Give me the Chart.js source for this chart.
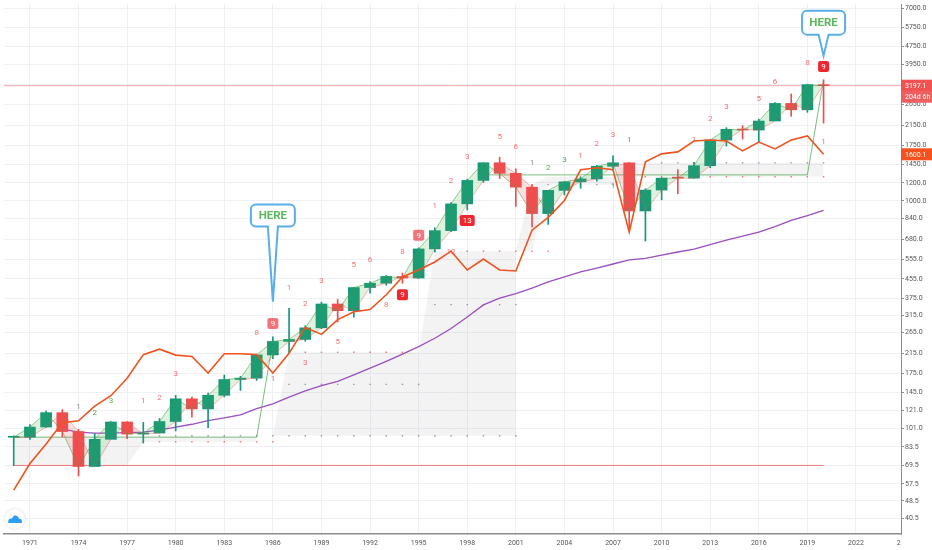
<!DOCTYPE html>
<html>
<head>
<meta charset="utf-8">
<script src="https://cdn.jsdelivr.net/npm/chart.js@4.4.1/dist/chart.umd.min.js"></script>
<style>
  html, body { margin: 0; padding: 0; background: #fff; }
</style>
</head>
<body>
<canvas id="chart" width="932" height="550"></canvas>
<script>
// yearly candles
const years = [1970,1971,1972,1973,1974,1975,1976,1977,1978,1979,1980,1981,1982,1983,1984,1985,1986,1987,1988,1989,
  1990,1991,1992,1993,1994,1995,1996,1997,1998,1999,2000,2001,2002,2003,2004,2005,2006,2007,2008,2009,
  2010,2011,2012,2013,2014,2015,2016,2017,2018,2019,2020];
const open = [92.06,92.15,102.09,118.05,97.55,68.56,90.19,107.46,95.10,96.11,107.94,135.76,122.55,140.64,164.93,167.24,211.28,242.17,247.08,277.72,
  353.40,330.22,417.09,435.71,466.45,459.27,615.93,740.74,970.43,1229.23,1469.25,1320.28,1148.08,879.82,1111.92,1211.92,1248.29,1418.30,1468.36,903.25,
  1115.10,1257.64,1257.60,1426.19,1848.36,2058.90,2043.94,2238.83,2673.61,2506.85,3230.78];
const high = [93.46,104.77,119.79,121.74,99.80,95.61,107.83,107.97,106.99,111.27,140.52,138.12,143.68,172.65,170.41,212.02,254.00,337.89,283.66,359.80,
  369.78,418.32,442.65,471.29,482.85,622.88,762.12,983.79,1244.93,1473.10,1552.87,1383.37,1176.97,1112.56,1217.33,1275.80,1431.81,1576.09,1471.77,1130.38,
  1262.60,1370.58,1474.51,1849.44,2093.55,2134.72,2277.53,2694.97,2940.91,3247.93,3393.52];
const low = [69.20,90.16,101.67,92.16,62.28,70.04,90.90,90.71,86.90,96.13,98.22,112.77,101.44,138.34,147.82,163.36,203.49,216.46,242.63,275.31,
  294.51,309.35,394.50,426.88,435.86,457.20,597.29,733.54,912.83,1205.46,1254.07,944.75,768.63,788.90,1060.72,1136.15,1219.29,1363.98,741.02,666.79,
  1010.91,1074.77,1258.86,1398.11,1737.92,1867.01,1810.10,2245.13,2346.58,2443.96,2191.86];
const close = [92.15,102.09,118.05,97.55,68.56,90.19,107.46,95.10,96.11,107.94,135.76,122.55,140.64,164.93,167.24,211.28,242.17,247.08,277.72,353.40,
  330.22,417.09,435.71,466.45,459.27,615.93,740.74,970.43,1229.23,1469.25,1320.28,1148.08,879.82,1111.92,1211.92,1248.29,1418.30,1468.36,903.25,1115.10,
  1257.64,1257.60,1426.19,1848.36,2058.90,2043.94,2238.83,2673.61,2506.85,3230.78,3197.1];

// orange-red trend line (1970-2020)
const redLine = [54,70.7,86,106.6,108.8,126,140,167,212,224,211,208,176,214,214,212,176,215,279,260,
  302,327,334,388,464,498,540,602,498,556,498,493,744,847,1004,1369,1397,1369,729,1483,
  1607,1640,1830,1848,1830,1656,1811,1689,1848,1925,1600.1];

// purple long average (1973-2020)
const purpleYears = years.slice(3);
const purpleLine = [100,97,96,96,96.5,97,99,102,105,109,112,115.5,123,129,138,147,155,162,173,185,
  198,213,230,250,276,310,350,375,392,415,442,465,488,508,529,551,560,579,597,615,
  643,673,700,729,772,822,862,908];

// grey zones
const zone1Years = [1970,1971,1972,1973,1974,1975,1976,1977,1978,1979,1980,1981,1982,1983,1984,1985];
const zone1Top = [92.5,92.5,92.5,92.5,92.5,92.5,92.5,92.5,92.5,92.5,92.5,92.5,92.5,92.5,92.5,92.5];
const zone1Bot = [69.3,69.3,69.3,69.3,69.3,69.3,69.3,69.3,88,88,88,88,88,88,88,88];
const zone2Years = [1986,1987,1988,1989,1990,1991,1992,1993,1994,1995,1996,1997,1998,1999,2000,2001];
const zone2Top = [93.5,217,217,217,217,217,217,217,217,217,602,602,602,602,602,602];
const zone2Bot = [93.5,93.5,93.5,93.5,93.5,93.5,93.5,93.5,93.5,93.5,93.5,93.5,93.5,93.5,93.5,93.5];
const zone3Years = [2001,2002,2003,2004,2005,2006,2007,2008,2009,2010,2011,2012,2013,2014,2015,2016,2017,2018,2019,2020];
const zone3Top = [602,1178,1276,1276,1276,1276,1276,1468,1468,1468,1468,1468,1468,1468,1468,1468,1468,1468,1468,1468];
const zone3Bot = [602,602,1178,1178,1178,1178,1178,1276,1276,1276,1276,1276,1276,1276,1276,1276,1276,1276,1276,1276];

// green support steps
const supportAYears = [1970,1971,1972,1973,1974,1975,1976,1977,1978,1979,1980,1981,1982,1983,1984,1985,1986];
const supportA = [92.2,92.2,92.2,92.2,92.2,92.2,92.2,92.2,92.2,92.2,92.2,92.2,92.2,92.2,92.2,92.2,242];
const supportBYears = [1999,2000,2001,2002,2003,2004,2005,2006,2007,2008,2009,2010,2011,2012,2013,2014,2015,2016,2017,2018,2019,2020];
const supportB = [1300,1300,1300,1300,1300,1300,1300,1300,1300,1300,1300,1300,1300,1300,1300,1300,1300,1300,1300,1300,1300,3393];

const baseLevel = 69.3;          // red horizontal from the 1970 low
const lastPrice = 3197.1;
const countdown = '204d 6h';

// dotted levels: [years, level, tone]
const dotLevels = [
  [[1978,1979,1980,1981,1982,1983,1984,1985,1986,1987,1988,1989,1990,1991,1992,1993,1994,1995,1996,1997,1998,1999,2000,2001], 93.5, 'g'],
  [[1978,1979,1980,1981,1982,1983,1984,1985,1986], 88, 'r'],
  [[1986,1987,1988,1989,1990,1991,1992,1993,1994], 217, 'r'],
  [[1987,1988,1989,1990,1991,1992,1993,1994,1995], 157, 'g'],
  [[1996,1997,1998,1999,2000,2001], 351, 'g'],
  [[1996,1997,1998,1999,2000,2001,2002,2003], 602, 'r'],
  [[2002,2003,2004,2005,2006,2007], 1178, 'g'],
  [[2009,2010,2011,2012,2013,2014,2015,2016,2017,2018,2019,2020], 1468, 'g'],
  [[2008,2009,2010,2011,2012,2013,2014,2015,2016,2017,2018,2019,2020], 1276, 'r']
];

// sequential counts
const tdYears = [1974,1975,1976,1978,1979,1980,1985,1986,1987,1988,1989,1991,1992,1986,1988,1990,1993,1994,1994,1995,
  1996,1997,1998,2000,2001,1998,1997,2002,2003,2004,2005,2006,2007,2008,2007,2012,2013,2014,2016,2017,2019,2020,2020];
const tdPrices = [125,118,134,134,138,176,265,290,416,354,446,524,551,167,196,242,351,388,602,707,
  955,1226,1560,1924,1724,821,602,1468,1398,1514,1576,1777,1963,1849,1166,1849,2304,2598,2815,3338,4036,3877,1812];
const tdTexts = ['1','2','3','1','2','3','8','9','1','2','3','5','6','1','3','5','8','9','8','9',
  '1','2','3','5','6','13','12','1','2','3','1','2','3','1','1','1','2','3','5','6','8','9','1'];
const tdKinds = ['k','g','g','r','r','r','r','pb','r','r','r','r','r','r','r','r','r','rb','r','pb',
  'r','r','r','r','r','rb','r','k','g','g','r','r','r','k','k','r','r','r','r','r','r','rb','r'];

const hereYears = [1986, 2020];
const herePrices = [362, 4330];

const yTicks = [7000,5750,4750,3950,3250,2650,2150,1750,1450,1200,1000,840,680,555,455,375,315,265,215,175,145,121,101,83.5,69.5,57.5,48.5,40.5];
const xTicks = [1971,1974,1977,1980,1983,1986,1989,1992,1995,1998,2001,2004,2007,2010,2013,2016,2019,2022];
const xMin = 1969.4, xMax = 2024.78;

const UP = '#13987c', DOWN = '#f04d4f';
const pts = (xs, ys) => xs.map((x, i) => ({x, y: ys[i]}));
const candleColor = years.map((y, i) => close[i] >= open[i] ? UP : DOWN);

function line(data, color, width, order, extra) {
  return Object.assign({type: 'line', data, borderColor: color, borderWidth: width,
    pointRadius: 0, fill: false, tension: 0, order}, extra || {});
}
const greyFill = 'rgba(120,123,134,0.09)';
function zone(xs, top, bot) {
  return [
    line(pts(xs, top), 'rgba(0,0,0,0)', 0, 20, {fill: '+1', backgroundColor: greyFill}),
    line(pts(xs, bot), 'rgba(0,0,0,0)', 0, 20)
  ];
}

const datasets = [
  ...zone(zone1Years, zone1Top, zone1Bot),
  ...zone(zone2Years, zone2Top, zone2Bot),
  ...zone(zone3Years, zone3Top, zone3Bot),
  line(pts(years, close), 'rgba(67,160,71,0.55)', 1, 3,
    {fill: {target: '+1', above: 'rgba(76,175,80,0.18)', below: 'rgba(239,83,80,0.18)'}}),
  line(pts(years, open), 'rgba(239,83,80,0.4)', 1, 3),
  line(pts(supportAYears, supportA), 'rgba(67,160,71,0.7)', 1, 6),
  line(pts(supportBYears, supportB), 'rgba(67,160,71,0.7)', 1, 6),
  line([{x: years[0], y: baseLevel}, {x: years[years.length - 1], y: baseLevel}], 'rgba(240,80,80,0.75)', 1, 6),
  line([{x: xMin, y: lastPrice}, {x: xMax, y: lastPrice}], 'rgba(240,90,90,0.5)', 1, 6),
  ...dotLevels.map(([ys, lvl, tone]) => line(ys.map(x => ({x, y: lvl})), 'rgba(0,0,0,0)', 0, 6,
    {showLine: false, pointRadius: 1, pointBorderWidth: 0, pointStyle: 'rect',
     pointBackgroundColor: tone === 'r' ? 'rgba(240,80,80,0.8)' : 'rgba(120,120,120,0.75)'})),
  line(pts(purpleYears, purpleLine), '#9b4fc0', 1.3, 7),
  line(pts(years, redLine), '#f0531f', 1.6, 2),
  {type: 'bar', data: years.map((x, i) => ({x, y: [low[i], high[i]]})), backgroundColor: candleColor,
    barThickness: 1, grouped: false, order: 5},
  {type: 'bar', data: years.map((x, i) => ({x, y: [open[i], close[i]]})), backgroundColor: candleColor,
    barThickness: 11, minBarLength: 1, grouped: false, order: 4}
];

function rr(ctx, x, y, w, h, r) {
  ctx.beginPath();
  ctx.moveTo(x + r, y);
  ctx.arcTo(x + w, y, x + w, y + h, r);
  ctx.arcTo(x + w, y + h, x, y + h, r);
  ctx.arcTo(x, y + h, x, y, r);
  ctx.arcTo(x, y, x + w, y, r);
  ctx.closePath();
}

function callout(ctx, tx, ty, gap, w, h) {
  const bx = tx - w / 2, by = ty - gap - h, r = 5, half = 5;
  ctx.beginPath();
  ctx.moveTo(bx + r, by);
  ctx.arcTo(bx + w, by, bx + w, by + h, r);
  ctx.arcTo(bx + w, by + h, tx + half, by + h, r);
  ctx.lineTo(tx + half, by + h);
  ctx.lineTo(tx, ty);
  ctx.lineTo(tx - half, by + h);
  ctx.arcTo(bx, by + h, bx, by, r);
  ctx.arcTo(bx, by, bx + w, by, r);
  ctx.closePath();
  ctx.fillStyle = '#fff';
  ctx.fill();
  ctx.lineWidth = 2;
  ctx.strokeStyle = '#5aaee8';
  ctx.stroke();
  ctx.fillStyle = '#5cb85c';
  ctx.font = 'bold 11.5px Roboto';
  ctx.textAlign = 'center';
  ctx.textBaseline = 'middle';
  ctx.fillText('HERE', tx, by + h / 2 + 0.5);
}

const overlay = {
  id: 'overlay',
  afterDatasetsDraw(chart) {
    const {ctx, scales: {x, y}} = chart;
    const tone = {r: 'rgba(240,60,70,0.75)', g: '#4caf50', k: '#8a8a8a'};
    ctx.save();
    ctx.font = '8px Roboto';
    ctx.textAlign = 'center';
    ctx.textBaseline = 'middle';
    tdYears.forEach((yr, i) => {
      const px = x.getPixelForValue(yr), py = y.getPixelForValue(tdPrices[i]);
      const k = tdKinds[i];
      if (k === 'rb' || k === 'pb') {
        const w = tdTexts[i].length > 1 ? 15 : 11;
        ctx.fillStyle = k === 'rb' ? '#f0262f' : 'rgba(240,70,80,0.75)';
        rr(ctx, px - w / 2, py - 5.5, w, 11, 2);
        ctx.fill();
        ctx.fillStyle = '#fff';
      } else {
        ctx.fillStyle = tone[k];
      }
      ctx.fillText(tdTexts[i], px, py + 0.5);
    });
    ctx.restore();
  },
  afterDraw(chart) {
    const {ctx, chartArea: a, scales: {x, y}} = chart;
    ctx.save();
    // HERE call-outs
    const tails = [75, 21], widths = [44, 43], heights = [22, 24];
    hereYears.forEach((yr, i) => callout(ctx, x.getPixelForValue(yr), y.getPixelForValue(herePrices[i]), tails[i], widths[i], heights[i]));

    // price tags on the axis
    ctx.font = '7px Roboto';
    ctx.textAlign = 'left';
    ctx.textBaseline = 'middle';
    const tag = (val, text, bg, dy) => {
      const py = y.getPixelForValue(val) + dy;
      ctx.fillStyle = bg;
      ctx.fillRect(a.right, py - 6, chart.width - a.right, 12);
      ctx.fillStyle = '#fff';
      ctx.fillText(text, a.right + 4, py + 0.5);
    };
    tag(lastPrice, lastPrice.toFixed(1), '#f05252', 0);
    tag(lastPrice, countdown, '#ef5f5f', 11);
    tag(redLine[redLine.length - 1], redLine[redLine.length - 1].toFixed(1), '#f4511e', 0);

    // clipped label past the last full tick
    ctx.save();
    ctx.beginPath();
    ctx.rect(0, a.bottom, a.right, chart.height - a.bottom);
    ctx.clip();
    ctx.fillStyle = '#555';
    ctx.textAlign = 'center';
    ctx.fillText('2025', x.getPixelForValue(2025), a.bottom + 9);
    ctx.restore();

    // logo badge
    ctx.beginPath();
    ctx.arc(15, 519, 10, 0, Math.PI * 2);
    ctx.fillStyle = '#fff';
    ctx.shadowColor = 'rgba(0,0,0,0.18)';
    ctx.shadowBlur = 3;
    ctx.fill();
    ctx.shadowBlur = 0;
    ctx.fillStyle = '#2a9df4';
    ctx.beginPath();
    ctx.moveTo(8, 523);
    ctx.arc(11, 521, 2.6, Math.PI, 1.6 * Math.PI);
    ctx.arc(15.5, 519, 3.4, 1.1 * Math.PI, 1.95 * Math.PI);
    ctx.arc(19.5, 521.2, 2.4, 1.5 * Math.PI, 0);
    ctx.lineTo(22, 523);
    ctx.closePath();
    ctx.fill();
    ctx.restore();
  }
};

const noPad = s => { s.paddingTop = 0; s.paddingBottom = 0; s.paddingLeft = 0; s.paddingRight = 0; };

new Chart(document.getElementById('chart').getContext('2d'), {
  type: 'bar',
  data: {datasets},
  options: {
    responsive: false,
    animation: false,
    layout: {padding: 0},
    plugins: {legend: {display: false}, tooltip: {enabled: false}},
    scales: {
      x: {
        type: 'linear', min: xMin, max: xMax, offset: false,
        afterBuildTicks: s => { s.ticks = xTicks.map(v => ({value: v})); },
        afterFit: s => { s.height = 16; noPad(s); },
        ticks: {autoSkip: false, maxRotation: 0, padding: 2, color: '#555',
          font: {size: 7, family: 'Roboto'}, callback: v => String(v)},
        grid: {color: '#eef0f4', offset: false, tickLength: 3, tickColor: 'rgba(0,0,0,0)'},
        border: {color: '#8c8c8c', width: 1.5}
      },
      y: {
        type: 'logarithmic', position: 'right', min: 34.7, max: 7290,
        afterBuildTicks: s => { s.ticks = yTicks.map(v => ({value: v})); },
        afterFit: s => { s.width = 31; noPad(s); },
        ticks: {autoSkip: false, padding: 1, color: '#555',
          font: {size: 7, family: 'Roboto'}, callback: v => Number(v).toFixed(1)},
        grid: {color: '#eef0f4', tickLength: 3, tickColor: '#8c8c8c'},
        border: {color: '#8c8c8c', width: 1}
      }
    }
  },
  plugins: [overlay]
});
</script>
</body>
</html>
